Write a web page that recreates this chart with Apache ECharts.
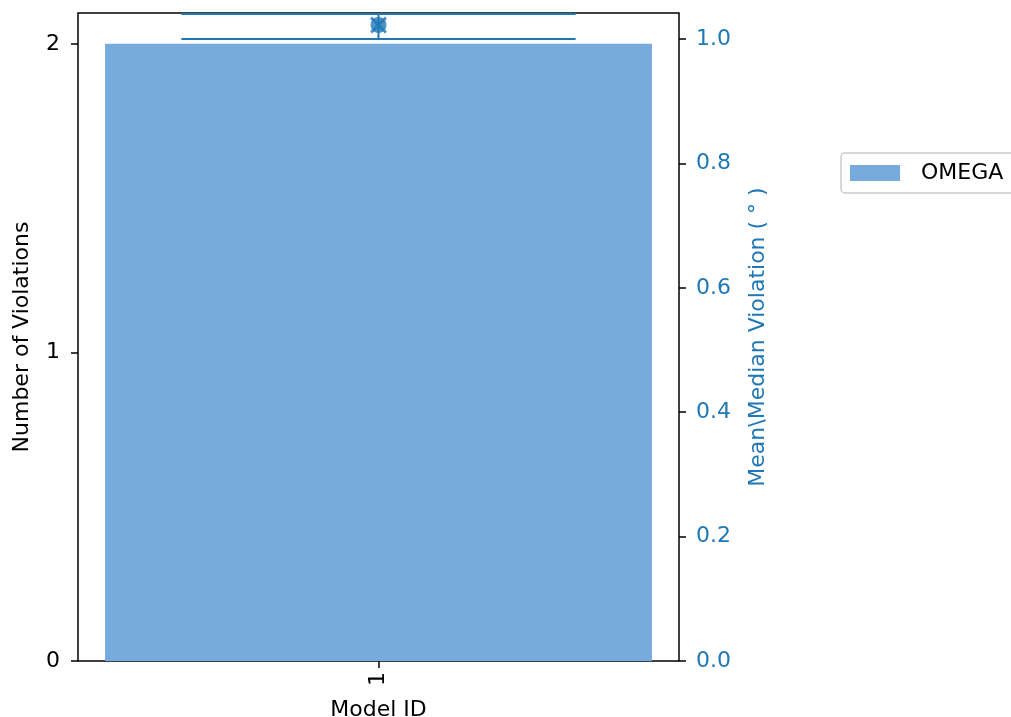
<!DOCTYPE html>
<html>
<head>
<meta charset="utf-8">
<script src="https://cdn.jsdelivr.net/npm/echarts@6/dist/echarts.min.js"></script>
<style>html,body{margin:0;padding:0;background:#fff;}#c{width:1011px;height:717px;}</style>
</head>
<body>
<div id="c"></div>
<script>
const categories = ['1'];
const violationCounts = [2];
const meanViolation = [1.0225];
const medianViolation = [1.0225];
const errLow = [1.0];
const errHigh = [1.0402];
const leftTicks = [0, 1, 2];
const rightTicks = [0, 0.2, 0.4, 0.6, 0.8, 1.0];
const seriesName = 'OMEGA';

const chart = echarts.init(document.getElementById('c'));
const font = 'DejaVu Sans';
const blue = '#1f77b4';
const fs = 22;
chart.setOption({
  animation: false,
  textStyle: {fontFamily: font},
  grid: {left: 78, top: 13, right: 332, bottom: 56, outerBoundsMode: 'none', containLabel: false, show: true, borderColor: '#000', borderWidth: 1.5, backgroundColor: 'transparent'},
  legend: {
    data: [seriesName], left: 841, top: 153, orient: 'vertical', icon: 'rect',
    itemWidth: 50, itemHeight: 16, itemGap: 10,
    padding: [9, 60, 9, 9], borderColor: '#ccc', borderWidth: 1.5, borderRadius: 4,
    textStyle: {fontFamily: font, fontSize: fs, color: '#000', padding: [0, 0, 0, 16]}
  },
  xAxis: {
    type: 'category', data: categories,
    name: 'Model ID', nameLocation: 'middle', nameGap: 38,
    nameTextStyle: {fontFamily: font, fontSize: fs, color: '#000'},
    axisLine: {show: false},
    axisTick: {show: true, alignWithLabel: true, length: 7, lineStyle: {color: '#000', width: 1.5}},
    axisLabel: {rotate: 90, fontFamily: font, fontSize: fs, color: '#000', margin: 11}
  },
  yAxis: [
    {
      type: 'value', min: 0, max: 2.1, interval: 1,
      name: 'Number of Violations', nameLocation: 'middle', nameGap: 45,
      nameTextStyle: {fontFamily: font, fontSize: fs, color: '#000'},
      axisLine: {show: false}, splitLine: {show: false},
      axisTick: {show: true, length: 7, lineStyle: {color: '#000', width: 1.5}, customValues: leftTicks},
      axisLabel: {fontFamily: font, fontSize: fs, color: '#000', margin: 18, customValues: leftTicks, formatter: v => String(v)}
    },
    {
      type: 'value', min: 0, max: 1.0418, interval: 0.2, position: 'right',
      name: 'Mean\\Median Violation ( ° )', nameLocation: 'middle', nameGap: 68, nameRotate: 90,
      nameTextStyle: {fontFamily: font, fontSize: fs, color: blue},
      axisLine: {show: false}, splitLine: {show: false},
      axisTick: {show: true, length: 7, lineStyle: {color: '#000', width: 1.5}, customValues: rightTicks},
      axisLabel: {fontFamily: font, fontSize: fs, color: blue, margin: 17, customValues: rightTicks, formatter: v => v.toFixed(1)}
    }
  ],
  series: [
    {
      name: seriesName, type: 'bar', yAxisIndex: 0, data: violationCounts,
      barWidth: '91%', itemStyle: {color: '#77AADD'}
    },
    {
      name: 'err', type: 'custom', yAxisIndex: 1,
      data: categories.map((c, i) => [i, errLow[i], errHigh[i]]),
      renderItem: function (params, api) {
        const x = api.value(0);
        const lo = api.coord([x, api.value(1)]);
        const hi = api.coord([x, api.value(2)]);
        const half = api.size([1, 0])[0] * 0.328;
        const st = {stroke: blue, lineWidth: 2};
        return {type: 'group', children: [
          {type: 'line', shape: {x1: lo[0], y1: lo[1], x2: hi[0], y2: hi[1]}, style: st},
          {type: 'line', shape: {x1: lo[0] - half, y1: lo[1], x2: lo[0] + half, y2: lo[1]}, style: st},
          {type: 'line', shape: {x1: hi[0] - half, y1: hi[1], x2: hi[0] + half, y2: hi[1]}, style: st}
        ]};
      },
      z: 3
    },
    {
      name: 'mean', type: 'scatter', yAxisIndex: 1, data: meanViolation.map((v, i) => [i, v]),
      symbol: 'circle', symbolSize: 16, itemStyle: {color: blue}, z: 4
    },
    {
      name: 'median', type: 'scatter', yAxisIndex: 1, data: medianViolation.map((v, i) => [i, v]),
      symbol: 'path://M0,2 L2,0 L8,6 L14,0 L16,2 L10,8 L16,14 L14,16 L8,10 L2,16 L0,14 L6,8 Z',
      symbolSize: 17, itemStyle: {color: blue}, z: 5
    }
  ]
});
</script>
</body>
</html>
